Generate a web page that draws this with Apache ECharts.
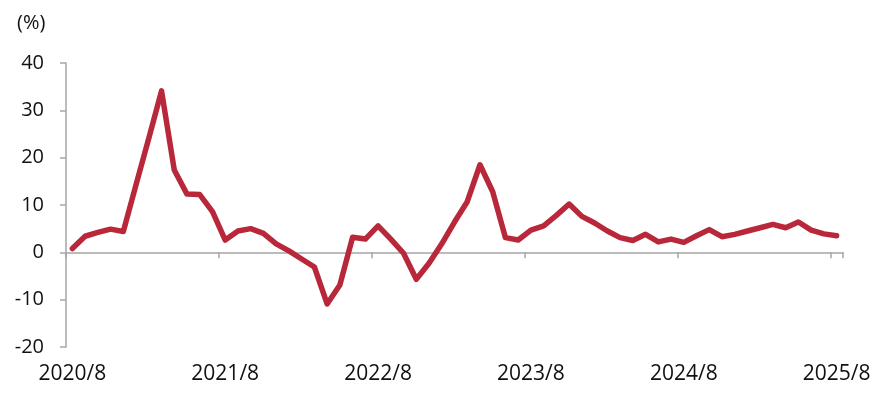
<!DOCTYPE html>
<html>
<head>
<meta charset="utf-8">
<script src="https://cdn.jsdelivr.net/npm/echarts@6/dist/echarts.min.js"></script>
<style>
html,body{margin:0;padding:0;background:#fff;}
#chart{width:890px;height:399px;}
</style>
</head>
<body>
<div id="chart"></div>
<script>
// Monthly categories 2020/8 .. 2025/8
const startYear = 2020, startMonth = 8, monthCount = 61;
const categories = [];
for (let i = 0; i < monthCount; i++) {
  const m = startMonth - 1 + i;
  categories.push((startYear + Math.floor(m / 12)) + '/' + (m % 12 + 1));
}
const values = [
  0.8, 3.4, 4.2, 4.9, 4.4, 14.3, 24.1, 34.1, 17.4, 12.3, 12.2, 8.6,
  2.6, 4.5, 5.0, 4.0, 1.8, 0.3, -1.4, -3.1, -10.9, -6.9, 3.2, 2.8,
  5.6, 2.8, -0.2, -5.7, -2.3, 1.8, 6.4, 10.7, 18.5, 12.8, 3.1, 2.6,
  4.7, 5.6, 7.8, 10.2, 7.6, 6.2, 4.5, 3.1, 2.5, 3.8, 2.2, 2.8,
  2.1, 3.5, 4.8, 3.3, 3.8, 4.5, 5.2, 5.9, 5.2, 6.4, 4.7, 3.9, 3.5
];
const yMin = -20, yMax = 40, yStep = 10;
const unitLabel = '(%)';

const axisGray = '#A6A6A6';
const lineRed = '#B8283A';
const fontFam = '"Open Sans", "Noto Sans", sans-serif';

const chart = echarts.init(document.getElementById('chart'), null, {renderer: 'canvas'});
chart.setOption({
  animation: false,
  backgroundColor: '#fff',
  grid: {left: 66, right: 47, top: 63, bottom: 52, containLabel: false},
  graphic: [{
    type: 'text', left: 17, top: 13,
    style: {text: unitLabel, font: '20px ' + fontFam, fill: '#111'}
  }],
  xAxis: [{
    type: 'category', data: categories, boundaryGap: true, position: 'bottom',
    axisLine: {show: false, onZero: false},
    axisTick: {show: false},
    axisLabel: {interval: 11, margin: 17, color: '#111', fontSize: 21, fontFamily: fontFam}
  }, {
    type: 'category', data: categories, boundaryGap: true, position: 'bottom',
    axisLine: {show: true, onZero: true, lineStyle: {color: axisGray, width: 1.5}},
    axisTick: {show: true, interval: 11, length: 6, lineStyle: {color: axisGray, width: 1.5}},
    axisLabel: {show: false}
  }],
  yAxis: {
    type: 'value', min: yMin, max: yMax, interval: yStep,
    axisLine: {show: true, onZero: false, lineStyle: {color: axisGray, width: 1.5}},
    axisTick: {show: true, length: 6, lineStyle: {color: axisGray, width: 1.5}},
    splitLine: {show: false},
    axisLabel: {margin: 22, color: '#111', fontSize: 20, fontFamily: fontFam}
  },
  series: [{
    type: 'line', data: values, xAxisIndex: 0,
    showSymbol: false, symbol: 'none',
    lineStyle: {color: lineRed, width: 5.5, cap: 'round', join: 'round'}
  }]
});
</script>
</body>
</html>
